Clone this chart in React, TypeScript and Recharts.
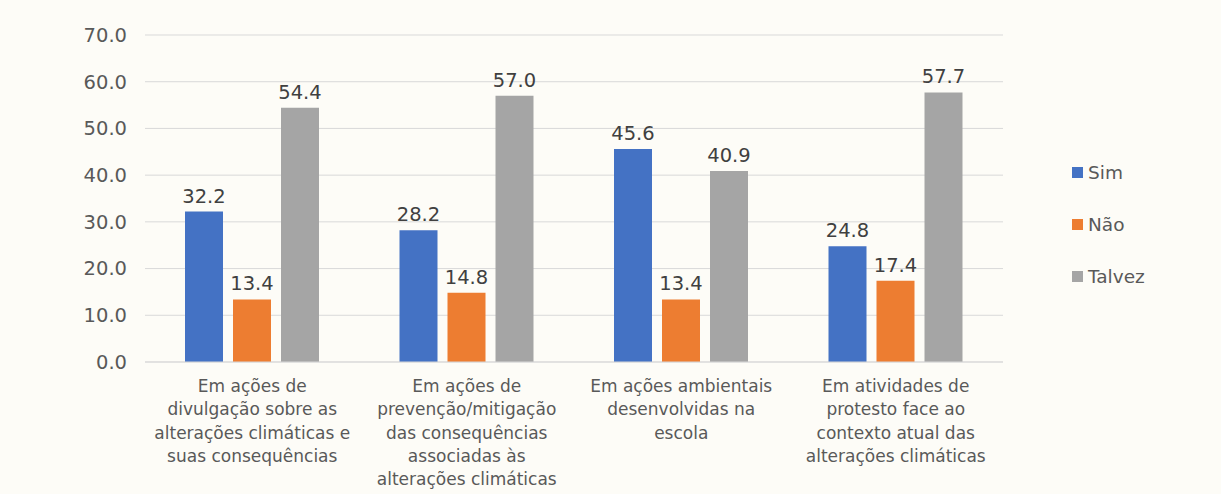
import React from 'react';
import { BarChart, Bar, XAxis, YAxis, CartesianGrid, LabelList } from 'recharts';

const categories = [
  ['Em ações de', 'divulgação sobre as', 'alterações climáticas e', 'suas consequências'],
  ['Em ações de', 'prevenção/mitigação', 'das consequências', 'associadas às', 'alterações climáticas'],
  ['Em ações ambientais', 'desenvolvidas na', 'escola'],
  ['Em atividades de', 'protesto face ao', 'contexto atual das', 'alterações climáticas'],
];
const sim = [32.2, 28.2, 45.6, 24.8];
const nao = [13.4, 14.8, 13.4, 17.4];
const talvez = [54.4, 57.0, 40.9, 57.7];
const yTicks = [0, 10, 20, 30, 40, 50, 60, 70];

const seriesDefs = [
  { key: 'sim', name: 'Sim', color: '#4472C4' },
  { key: 'nao', name: 'Não', color: '#ED7D31' },
  { key: 'talvez', name: 'Talvez', color: '#A5A5A5' },
];

const data = categories.map((lines, i) => ({
  idx: i,
  sim: sim[i],
  nao: nao[i],
  talvez: talvez[i],
}));

const FONT = '"DejaVu Sans", sans-serif';
const TEXT = '#595959';

const CategoryTick: React.FC<any> = ({ x, y, payload }) => {
  const lines = categories[payload.value] || [];
  return (
    <text x={x} y={y} textAnchor="middle" fill={TEXT} fontSize={17} fontFamily={FONT}>
      {lines.map((l, i) => (
        <tspan key={i} x={x} dy={i === 0 ? 22 : 23.3}>{l}</tspan>
      ))}
    </text>
  );
};

const Legend: React.FC = () => (
  <div style={{ position: 'absolute', left: 1072, top: 146, fontFamily: FONT, fontSize: 18.5, color: TEXT }}>
    {seriesDefs.map((s) => (
      <div key={s.key} style={{ display: 'flex', alignItems: 'center', height: 52 }}>
        <span style={{ width: 11, height: 11, background: s.color, display: 'inline-block', marginRight: 5 }} />
        <span>{s.name}</span>
      </div>
    ))}
  </div>
);

export default function App() {
  return (
    <div style={{ position: 'fixed', left: 0, top: 0, width: 1221, height: 494, background: '#FDFCF7', overflow: 'hidden' }}>
      <BarChart
        width={1221}
        height={494}
        data={data}
        margin={{ top: 35, right: 218, left: 0, bottom: 0 }}
        barGap={10}
        barCategoryGap={40}
      >
        <CartesianGrid vertical={false} stroke="#D9D9D9" />
        <XAxis
          dataKey="idx"
          tick={<CategoryTick />}
          tickLine={false}
          axisLine={{ stroke: '#D9D9D9' }}
          interval={0}
          height={132}
        />
        <YAxis
          width={145}
          domain={[0, 70]}
          ticks={yTicks}
          tickFormatter={(v: number) => v.toFixed(1)}
          tick={{ fill: TEXT, fontSize: 19.5, fontFamily: FONT }}
          tickLine={false}
          axisLine={false}
          tickSize={0}
          tickMargin={18}
        />
        {seriesDefs.map((s) => (
          <Bar key={s.key} dataKey={s.key} name={s.name} fill={s.color} barSize={38} isAnimationActive={false}>
            <LabelList
              dataKey={s.key}
              position="top"
              offset={9}
              formatter={(v: number) => v.toFixed(1)}
              style={{ fill: '#404040', fontSize: 19.5, fontFamily: FONT }}
            />
          </Bar>
        ))}
      </BarChart>
      <Legend />
    </div>
  );
}
